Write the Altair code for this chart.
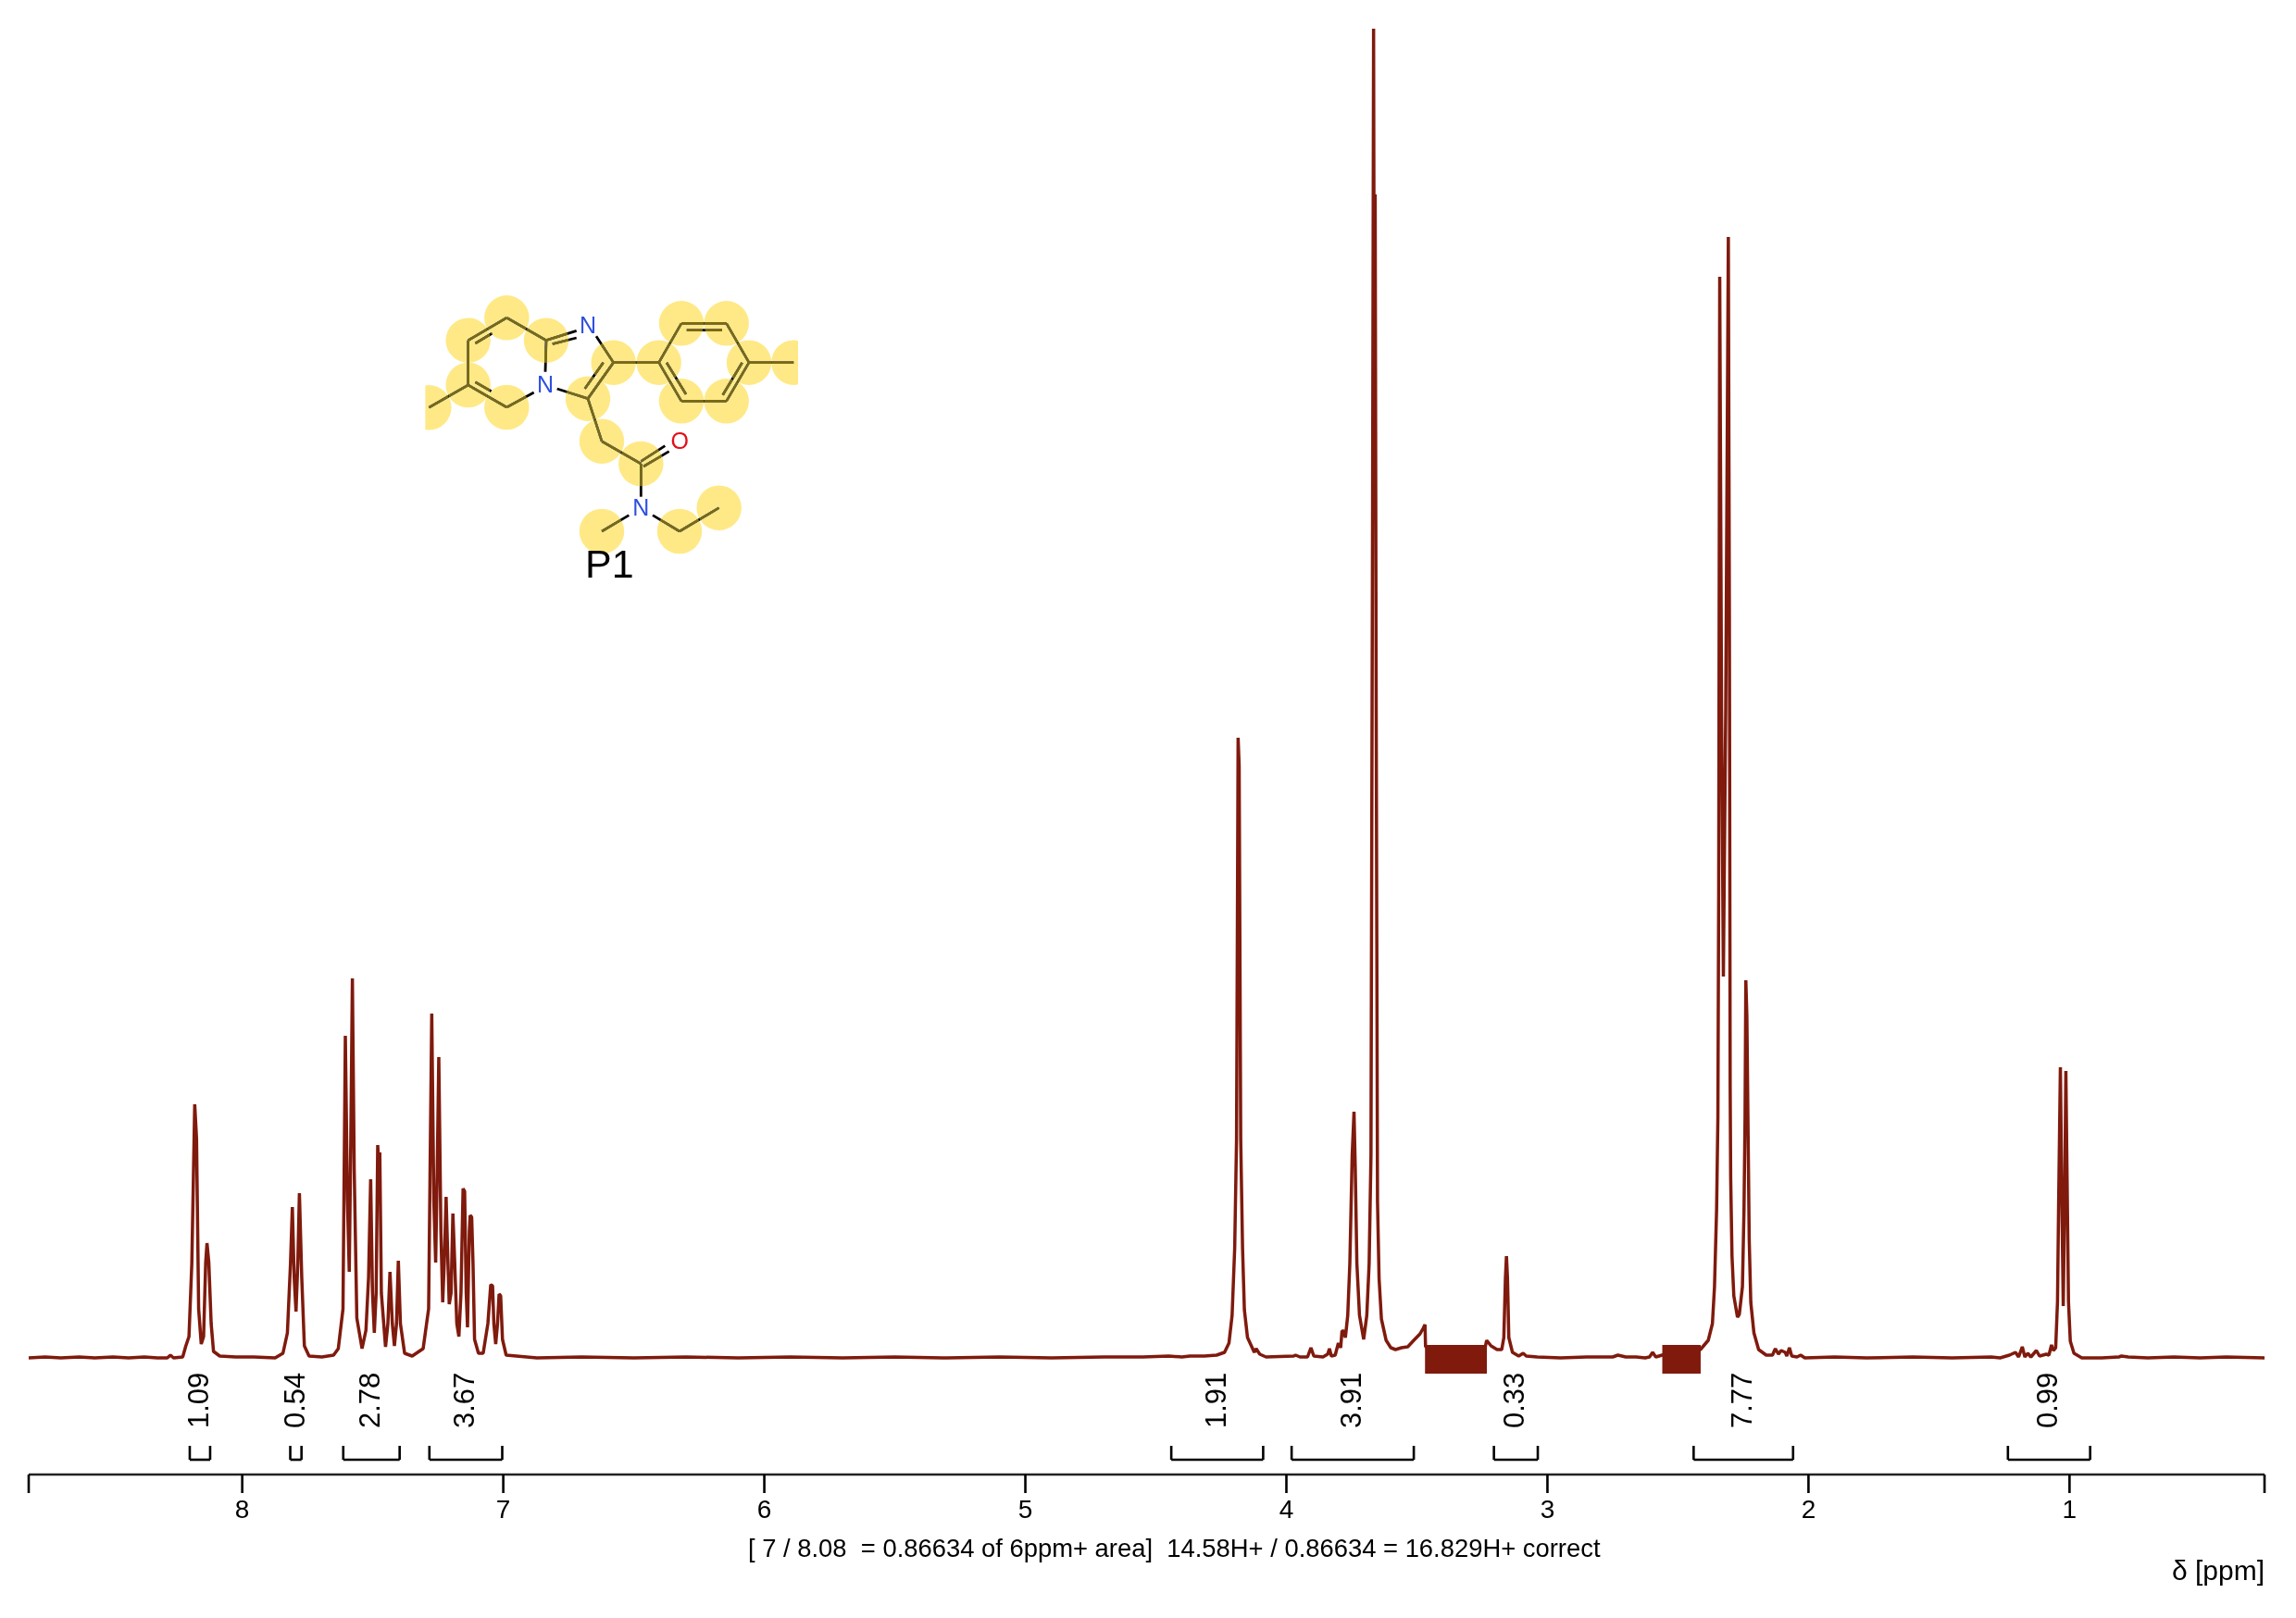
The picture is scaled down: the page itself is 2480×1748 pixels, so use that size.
import altair as alt
import pandas as pd

FONT = "Liberation Sans"
RED = "#7F1A0D"

# --- spectrum: chemical shift (ppm) and height above the baseline
ppm_aromatic = [8.818, 8.755, 8.695, 8.625, 8.565, 8.495, 8.435, 8.375, 8.325, 8.287, 8.275, 8.263, 8.228, 8.216, 8.204, 8.193, 8.182, 8.175, 8.167, 8.157, 8.148, 8.140, 8.135, 8.128, 8.119, 8.110, 8.086, 8.025, 7.955, 7.874, 7.844, 7.827, 7.815, 7.808, 7.801, 7.794, 7.787, 7.781, 7.772, 7.762, 7.744, 7.695, 7.650, 7.632, 7.614, 7.605, 7.597, 7.590, 7.584, 7.578, 7.571, 7.561, 7.541, 7.526, 7.516, 7.508, 7.501, 7.494, 7.487, 7.481, 7.476, 7.473, 7.467, 7.451, 7.442, 7.434, 7.425, 7.417, 7.409, 7.402, 7.394, 7.378, 7.349, 7.307, 7.286, 7.274, 7.266, 7.259, 7.253, 7.247, 7.239, 7.232, 7.226, 7.219, 7.212, 7.207, 7.200, 7.193, 7.186, 7.178, 7.170, 7.162, 7.154, 7.148, 7.142, 7.137, 7.130, 7.127, 7.121, 7.116, 7.110, 7.095, 7.077, 7.059, 7.048, 7.041, 7.036, 7.029, 7.022, 7.016, 7.010, 7.003, 6.989, 6.871]
int_aromatic = [0, 1, 0, 1, 0, 1, 0, 1, 0, 0, 3, 0, 1, 13, 23, 103, 274, 237, 53, 15, 23, 103, 124, 103, 37, 7, 2, 1, 1, 0, 5, 27, 103, 163, 87, 50, 103, 178, 87, 13, 2, 1, 3, 10, 53, 348, 170, 93, 237, 410, 203, 43, 10, 30, 87, 193, 70, 27, 70, 230, 203, 222, 70, 12, 37, 93, 37, 13, 37, 105, 37, 5, 2, 10, 53, 372, 170, 103, 203, 325, 137, 60, 103, 174, 103, 58, 70, 156, 103, 37, 23, 70, 183, 180, 70, 33, 137, 154, 152, 103, 20, 5, 5, 37, 79, 78, 37, 15, 37, 69, 67, 20, 3, 0]
ppm_flat = [6.70, 6.50, 6.30, 6.10, 5.90, 5.70, 5.50, 5.30, 5.10, 4.90, 4.70, 4.55, 4.45, 4.40, 4.37]
int_flat = [1, 0, 1, 0, 1, 0, 1, 0, 1, 0, 1, 1, 2, 1, 2]
ppm_aliphatic = [4.314, 4.267, 4.237, 4.220, 4.208, 4.198, 4.191, 4.185, 4.181, 4.175, 4.168, 4.161, 4.149, 4.131, 4.123, 4.116, 4.102, 4.078, 3.972, 3.965, 3.948, 3.919, 3.906, 3.895, 3.860, 3.842, 3.835, 3.828, 3.813, 3.801, 3.792, 3.787, 3.780, 3.774, 3.765, 3.757, 3.748, 3.741, 3.736, 3.730, 3.720, 3.704, 3.692, 3.683, 3.676, 3.670, 3.666, 3.664, 3.660, 3.656, 3.651, 3.645, 3.636, 3.618, 3.600, 3.582, 3.559, 3.535, 3.512, 3.488, 3.476, 3.469, 3.467, 3.39, 3.29, 3.238, 3.233, 3.216, 3.193, 3.175, 3.167, 3.161, 3.157, 3.153, 3.148, 3.134, 3.110, 3.093, 3.081, 3.039, 2.95, 2.85, 2.75, 2.73, 2.70, 2.66]
int_aliphatic = [2, 3, 6, 16, 46, 119, 236, 670, 640, 236, 119, 52, 22, 11, 6, 10, 4, 1, 2, 3, 1, 1, 11, 2, 1, 4, 10, 2, 3, 16, 11, 29, 29, 22, 46, 102, 219, 266, 202, 102, 46, 20, 46, 102, 219, 900, 1436, 1150, 1257, 700, 169, 86, 42, 19, 11, 9, 11, 12, 19, 26, 32, 36, 12, 10, 10, 12, 19, 13, 9, 9, 22, 86, 110, 86, 22, 6, 2, 5, 2, 1, 0, 1, 1, 3, 1, 1]
ppm_methyl = [2.626, 2.609, 2.597, 2.585, 2.50, 2.414, 2.384, 2.368, 2.360, 2.352, 2.347, 2.344, 2.340, 2.333, 2.326, 2.317, 2.307, 2.303, 2.300, 2.298, 2.293, 2.286, 2.272, 2.265, 2.253, 2.247, 2.243, 2.240, 2.236, 2.232, 2.227, 2.221, 2.209, 2.191, 2.162, 2.138, 2.127, 2.115, 2.105, 2.089, 2.083, 2.073, 2.064, 2.044, 2.030, 2.014, 1.90, 1.777, 1.60, 1.45, 1.30]
int_methyl = [0, 1, 6, 1, 8, 9, 19, 37, 77, 160, 260, 500, 1168, 700, 412, 700, 1211, 800, 294, 194, 110, 67, 44, 47, 77, 160, 260, 408, 369, 260, 127, 60, 27, 9, 3, 3, 10, 4, 8, 6, 2, 11, 2, 1, 3, 0, 1, 0, 1, 0, 1]
ppm_end = [1.266, 1.230, 1.207, 1.195, 1.181, 1.171, 1.160, 1.148, 1.127, 1.115, 1.089, 1.079, 1.069, 1.062, 1.053, 1.046, 1.042, 1.035, 1.029, 1.024, 1.019, 1.014, 1.008, 1.004, 0.997, 0.983, 0.953, 0.876, 0.811, 0.801, 0.775, 0.70, 0.60, 0.50, 0.40, 0.253]
int_end = [0, 3, 6, 1, 12, 1, 5, 1, 8, 2, 4, 3, 14, 8, 11, 61, 161, 314, 161, 56, 161, 310, 161, 61, 18, 5, 0, 0, 1, 2, 1, 0, 1, 0, 1, 0]

# --- solvent blocks
block_left = [3.469, 2.560]
block_right = [3.232, 2.413]
block_top = [14, 14]
block_bottom = [-17, -17]

# --- integrals
integral_labels = ["1.09", "0.54", "2.78", "3.67", "1.91", "3.91", "0.33", "7.77", "0.99"]
integral_left = [8.201, 7.816, 7.613, 7.283, 4.441, 3.980, 3.205, 2.440, 1.236]
integral_right = [8.123, 7.773, 7.397, 7.004, 4.089, 3.512, 3.037, 2.059, 0.921]
BR_TOP, BR_BOTTOM, LABEL_H = -95, -110, -76

# --- shift axis
axis_start, axis_end = 8.818, 0.253
tick_values = [8.818, 8, 7, 6, 5, 4, 3, 2, 1, 0.253]
tick_labels = ["", "8", "7", "6", "5", "4", "3", "2", "1", ""]
AXIS_H, TICK_END, TICK_LABEL_H = -126, -146, -165

note = "[ 7 / 8.08 \u00a0= 0.86634 of 6ppm+ area] \u00a014.58H+ / 0.86634 = 16.829H+ correct"
note_ppm, note_h = 4.430, -207
unit_label = "δ [ppm]"
unit_ppm, unit_h = 0.253, -231

# --- structure drawing, in drawing units
circle_x = [322, 197, 197, 322, 450, 70, 668, 585, 630, 757, 630, 882, 1010, 815, 888, 1034, 1107, 1034, 888, 1252]
circle_y = [130, 203, 348, 420, 203, 421, 275, 392, 530, 603, 822, 822, 746, 275, 148, 148, 275, 400, 400, 275]
bond_x1 = [322, 220, 197, 197, 220, 322, 447, 450, 450, 470, 612, 668, 635, 485, 585, 630, 757, 765, 757, 718, 795, 882, 197, 668, 815, 888, 905, 1034, 1107, 1085, 1034, 888, 840, 1107]
bond_y1 = [130, 213, 203, 348, 338, 420, 305, 203, 203, 215, 190, 275, 275, 360, 392, 530, 595, 612, 603, 770, 770, 822, 348, 275, 275, 148, 170, 148, 275, 275, 400, 400, 275, 275]
bond_x2 = [197, 275, 197, 322, 272, 410, 450, 322, 548, 548, 668, 585, 575, 585, 630, 757, 835, 848, 757, 630, 882, 1010, 70, 815, 888, 1034, 1020, 1107, 1034, 1022, 888, 815, 903, 1252]
bond_y2 = [203, 180, 348, 420, 368, 372, 203, 130, 172, 195, 275, 392, 360, 392, 530, 603, 545, 563, 710, 822, 822, 746, 421, 275, 148, 148, 170, 275, 400, 380, 400, 275, 378, 275]
atom_text = ["N", "N", "N", "O", "P1"]
atom_x = [585, 447, 757, 883, 655]
atom_y = [157, 348, 746, 530, 934]
atom_color = ["#2F4FE0", "#2F4FE0", "#2F4FE0", "#E0101A", "#000000"]
atom_size = [25, 25, 25, 25, 43]
mask_x1 = [-40, 1266]
mask_x2 = [58, 1345]
mask_y1 = [340, 195]
mask_y2 = [505, 355]

spectrum = pd.DataFrame({
    "ppm": ppm_aromatic + ppm_flat + ppm_aliphatic + ppm_methyl + ppm_end,
    "h": int_aromatic + int_flat + int_aliphatic + int_methyl + int_end,
})
blocks = pd.DataFrame({"a": block_left, "b": block_right, "t": block_top, "u": block_bottom})
integrals = pd.DataFrame({"label": integral_labels, "a": integral_left, "b": integral_right})
integrals["mid"] = (integrals["a"] + integrals["b"]) / 2
integrals["top"] = BR_TOP
integrals["bottom"] = BR_BOTTOM
integrals["lh"] = LABEL_H
ticks = pd.DataFrame({"p": tick_values, "t": tick_labels})
ticks["a"] = AXIS_H
ticks["b"] = TICK_END
ticks["l"] = TICK_LABEL_H
spine = pd.DataFrame({"a": [axis_start], "b": [axis_end], "h": [AXIS_H]})
circles = pd.DataFrame({"x": circle_x, "y": circle_y})
bonds = pd.DataFrame({"x": bond_x1, "y": bond_y1, "x2": bond_x2, "y2": bond_y2})
atoms = pd.DataFrame({"t": atom_text, "x": atom_x, "y": atom_y, "c": atom_color, "s": atom_size})
masks = pd.DataFrame({"x": mask_x1, "x2": mask_x2, "y": mask_y1, "y2": mask_y2})
texts = pd.DataFrame({"t": [note], "p": [note_ppm], "h": [note_h]})
units = pd.DataFrame({"t": [unit_label], "p": [unit_ppm], "h": [unit_h]})

W, H = 2415, 1585
xs = alt.Scale(domain=[8.818, 0.253], nice=False, zero=False)
ys = alt.Scale(domain=[-126, 1459], nice=False, zero=False)
mxs = alt.Scale(domain=[-1227, 6018], nice=False, zero=False)
mys = alt.Scale(domain=[3879, -876], nice=False, zero=False)


def X(f, **k):
    return alt.X(f, type="quantitative", scale=xs, axis=None, **k)


def Y(f, **k):
    return alt.Y(f, type="quantitative", scale=ys, axis=None, **k)


def MX(f):
    return alt.X(f, type="quantitative", scale=mxs, axis=None)


def MY(f):
    return alt.Y(f, type="quantitative", scale=mys, axis=None)


line = alt.Chart(spectrum).mark_line(color=RED, strokeWidth=3.5, strokeJoin="bevel", interpolate="linear").encode(
    x=X("ppm"), y=Y("h"), order=alt.Order("ppm:Q", sort="descending"))
rects = alt.Chart(blocks).mark_rect(color=RED, opacity=1).encode(
    x=X("a"), x2=alt.X2("b"), y=Y("t"), y2=alt.Y2("u"))
bars = alt.Chart(integrals).mark_rule(color="#000000", strokeWidth=2.6).encode(
    x=X("a"), x2=alt.X2("b"), y=Y("bottom"))
ends_l = alt.Chart(integrals).mark_rule(color="#000000", strokeWidth=2.6).encode(
    x=X("a"), y=Y("top"), y2=alt.Y2("bottom"))
ends_r = alt.Chart(integrals).mark_rule(color="#000000", strokeWidth=2.6).encode(
    x=X("b"), y=Y("top"), y2=alt.Y2("bottom"))
int_text = alt.Chart(integrals).mark_text(font=FONT, fontSize=31, angle=270, align="left", baseline="middle", color="#000000").encode(
    x=X("mid"), y=Y("lh"), text="label:N")
spine_mark = alt.Chart(spine).mark_rule(color="#222222", strokeWidth=2.6).encode(
    x=X("a"), x2=alt.X2("b"), y=Y("h"))
tick_marks = alt.Chart(ticks).mark_rule(color="#000000", strokeWidth=2.6).encode(
    x=X("p"), y=Y("a"), y2=alt.Y2("b"))
tick_text = alt.Chart(ticks).mark_text(font=FONT, fontSize=28, align="center", baseline="middle", color="#000000").encode(
    x=X("p"), y=Y("l"), text="t:N")
note_text = alt.Chart(texts).mark_text(font=FONT, fontSize=27.4, align="center", baseline="middle", color="#000000").encode(
    x=X("p"), y=Y("h"), text="t:N")
unit_text = alt.Chart(units).mark_text(font=FONT, fontSize=30, align="right", baseline="middle", color="#000000").encode(
    x=X("p"), y=Y("h"), text="t:N")

bond_black = alt.Chart(bonds).mark_rule(color="#000000", strokeWidth=2.8).encode(
    x=MX("x"), y=MY("y"), x2=alt.X2("x2"), y2=alt.Y2("y2"))
circ_yellow = alt.Chart(circles).mark_circle(color="#FFE986", opacity=1, size=2350, blend="darken").encode(
    x=MX("x"), y=MY("y"))
circ_olive = alt.Chart(circles).mark_circle(color="#7A6A10", opacity=1, size=2350, blend="lighten").encode(
    x=MX("x"), y=MY("y"))
mask = alt.Chart(masks).mark_rect(color="#FFFFFF", opacity=1).encode(
    x=MX("x"), x2=alt.X2("x2"), y=MY("y"), y2=alt.Y2("y2"))
atom_marks = alt.Chart(atoms).mark_text(font=FONT, align="center", baseline="middle").encode(
    x=MX("x"), y=MY("y"), text="t:N",
    color=alt.Color("c:N", scale=None), size=alt.Size("s:Q", scale=None))

chart = (
    alt.layer(bond_black, circ_yellow, circ_olive, mask, atom_marks,
              line, rects, bars, ends_l, ends_r, int_text, spine_mark, tick_marks, tick_text,
              note_text, unit_text)
    .resolve_scale(x="independent", y="independent")
    .properties(
        width=W, height=H, background="white",
        padding={"left": 23, "top": 0, "right": 26, "bottom": 147},
        autosize=alt.AutoSizeParams(type="none"),
    )
    .configure_view(stroke=None)
)
chart.save("out.html", embed_options={"renderer": "svg", "actions": False})
